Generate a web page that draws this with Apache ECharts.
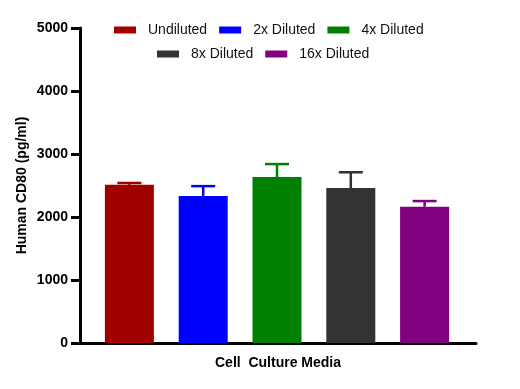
<!DOCTYPE html>
<html>
<head>
<meta charset="utf-8">
<script src="https://cdn.jsdelivr.net/npm/echarts@6/dist/echarts.min.js"></script>
<style>html,body{margin:0;padding:0;background:#fff;}#c{width:520px;height:389px;}</style>
</head>
<body>
<div id="c"></div>
<script>
const categories = ['Cell  Culture Media'];
const seriesNames = ['Undiluted', '2x Diluted', '4x Diluted', '8x Diluted', '16x Diluted'];
const means = [2510, 2335, 2635, 2460, 2163];
const errors = [30, 155, 205, 250, 90];
const colors = ['#A00000', '#0000FF', '#008000', '#333333', '#800080'];
const yMin = 0, yMax = 5000, yInterval = 1000;
const yTitle = 'Human CD80 (pg/ml)';

const FONT = 'Arial, "Liberation Sans", sans-serif';
const chart = echarts.init(document.getElementById('c'), null, {renderer: 'canvas'});

const series = [];
seriesNames.forEach((name, i) => {
  series.push({
    name: name,
    type: 'bar',
    xAxisIndex: 1,
    yAxisIndex: 1,
    barWidth: 49,
    barGap: '-100%',
    itemStyle: {color: colors[i]},
    data: seriesNames.map((n, j) => j === i ? means[i] : '-'),
    z: 2
  });
  series.push({
    name: name,
    type: 'custom',
    xAxisIndex: 1,
    yAxisIndex: 1,
    z: 3,
    data: [[i, means[i], errors[i]]],
    renderItem: function (params, api) {
      const x = api.value(0);
      const m = api.value(1);
      const e = api.value(2);
      const p0 = api.coord([x, m]);
      const p1 = api.coord([x, m + e]);
      const hw = 12;
      const style = {stroke: colors[i], lineWidth: 2.5, fill: null};
      return {
        type: 'group',
        children: [
          {type: 'line', shape: {x1: p0[0], y1: p0[1], x2: p1[0], y2: p1[1]}, style: style},
          {type: 'line', shape: {x1: p1[0] - hw, y1: p1[1], x2: p1[0] + hw, y2: p1[1]}, style: style}
        ]
      };
    }
  });
});

const legendCommon = {
  orient: 'horizontal',
  icon: 'rect',
  itemWidth: 22,
  itemHeight: 7,
  itemGap: 12,
  padding: 0,
  textStyle: {fontFamily: FONT, fontSize: 14, color: '#111', padding: [0, 0, 0, 7]}
};

chart.setOption({
  animation: false,
  backgroundColor: '#fff',
  legend: [
    Object.assign({}, legendCommon, {left: 114, top: 23, data: seriesNames.slice(0, 3)}),
    Object.assign({}, legendCommon, {left: 157, top: 47, data: seriesNames.slice(3)})
  ],
  grid: [
    {left: 80, right: 44, top: 28, bottom: 46},
    {left: 92.5, right: 58.5, top: 28, bottom: 46}
  ],
  xAxis: [
    {
      type: 'category',
      gridIndex: 0,
      data: categories,
      axisLine: {lineStyle: {color: '#000', width: 3}},
      axisTick: {alignWithLabel: true, length: 8, lineStyle: {color: '#000', width: 3}},
      axisLabel: {fontFamily: FONT, fontSize: 14, fontWeight: 'bold', color: '#000', margin: 13}
    },
    {
      type: 'category',
      gridIndex: 1,
      data: seriesNames,
      show: false
    }
  ],
  yAxis: [
    {
      type: 'value',
      gridIndex: 0,
      min: yMin,
      max: yMax,
      interval: yInterval,
      name: yTitle,
      nameLocation: 'middle',
      nameGap: 51,
      nameMoveOverlap: false,
      nameTextStyle: {fontFamily: FONT, fontSize: 14, fontWeight: 'bold', color: '#000'},
      axisLine: {show: true, lineStyle: {color: '#000', width: 3}},
      axisTick: {show: true, length: 9, lineStyle: {color: '#000', width: 3}},
      axisLabel: {fontFamily: FONT, fontSize: 14, fontWeight: 'bold', color: '#000', margin: 12,
        formatter: function (v) { return String(v); }},
      splitLine: {show: false}
    },
    {
      type: 'value',
      gridIndex: 1,
      min: yMin,
      max: yMax,
      interval: yInterval,
      show: false,
      splitLine: {show: false}
    }
  ],
  series: series
});
</script>
</body>
</html>
